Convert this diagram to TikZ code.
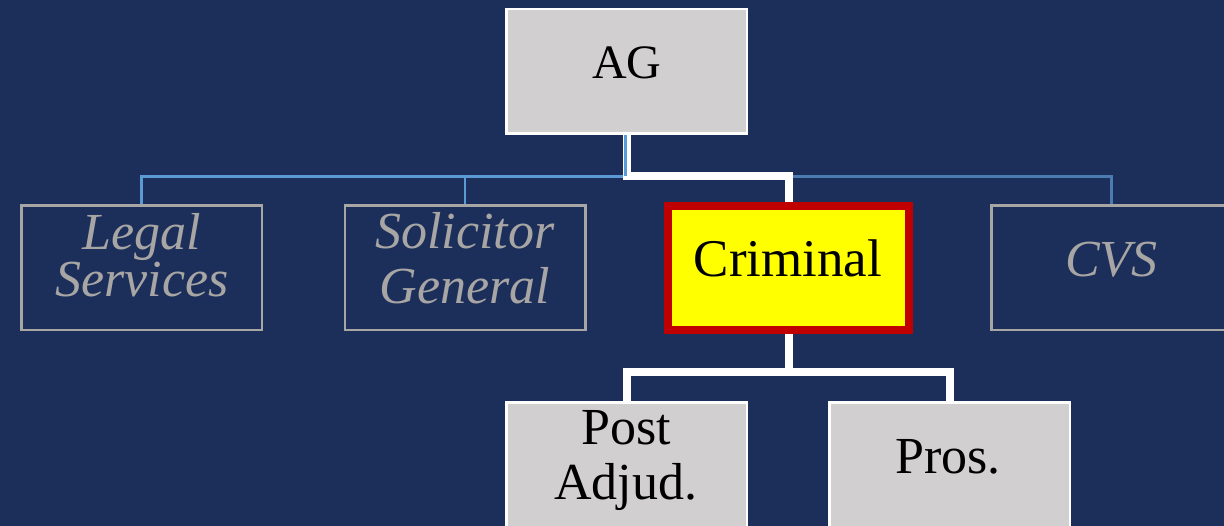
\documentclass[tikz,border=0pt]{standalone}
\usepackage{fontspec}
\setmainfont{Liberation Serif}
\usetikzlibrary{calc}

\definecolor{navy}{HTML}{1C2F5A}
\definecolor{boxgray}{HTML}{D1CFD0}
\definecolor{ghostgray}{HTML}{A8A5A5}
\definecolor{critred}{HTML}{C00000}
\definecolor{crityellow}{HTML}{FFFF00}
\definecolor{buslight}{HTML}{5B9BD5}
\definecolor{busdark}{HTML}{4A7CB2}

\pgfdeclarelayer{back}
\pgfdeclarelayer{wires}
\pgfsetlayers{back,wires,main}

\begin{document}
\begin{tikzpicture}[x=1pt,y=-1pt,
  box/.style={rectangle, inner sep=0pt, outer sep=0pt,
    minimum width=240.5pt, minimum height=124.5pt},
  greybox/.style={box, fill=boxgray, draw=white, line width=2.5pt},
  ghostbox/.style={box, draw=ghostgray, line width=2.5pt},
  hotbox/.style={box, fill=crityellow, draw=critred, line width=8pt,
    minimum width=241pt, minimum height=124pt},
  lbl/.style={anchor=base, inner sep=0pt, outer sep=0pt, text=black,
    font=\fontsize{52}{52}\selectfont},
  ghostlbl/.style={lbl, text=ghostgray, font=\fontsize{52}{52}\selectfont\itshape},
  bus/.style={line width=2.5pt},
  trunk/.style={draw=white, line width=8pt, line join=miter},
]
\useasboundingbox (0,0) rectangle (1224,526);
\clip (0,0) rectangle (1224,526);
\begin{pgfonlayer}{back}
  \fill[navy] (0,0) rectangle (1224,526);
\end{pgfonlayer}

% boxes
\node[greybox]  (ag)    at (626.5,71.5) {};
\node[ghostbox] (legal) at (141.5,268)  {};
\node[ghostbox] (sg)    at (465,268)    {};
\node[hotbox]   (crim)  at (788.5,268)  {};
\node[ghostbox] (cvs)   at (1111.5,268) {};
\node[greybox]  (post)  at (626.5,465) {};
\node[greybox]  (pros)  at (949.5,465) {};

% labels
\node[lbl, font=\fontsize{48}{48}\selectfont] (agt) at (627,79) {AG};
\node[ghostlbl] (legalt1) at (142,250) {Legal};
\node[ghostlbl] (legalt2) at (142,297) {Services};
\node[ghostlbl] (sgt1) at (465,249) {Solicitor};
\node[ghostlbl] (sgt2) at (465,304) {General};
\node[lbl, font=\fontsize{53}{53}\selectfont] (crimt) at (788,277) {Criminal};
\node[ghostlbl] (cvst) at (1111.5,277) {CVS};
\node[lbl] (postt1) at (626,445) {Post};
\node[lbl] (postt2) at (625.5,500) {Adjud.};
\node[lbl] (prost) at (948,473) {Pros.};

% connectors
\coordinate (busL) at (141.5,176.5);
\coordinate (busM) at (627,176.5);
\coordinate (busR) at (1111.5,176.5);
\coordinate (split) at (788.5,372.5);

\begin{pgfonlayer}{wires}
  \draw[bus, draw=buslight] (legal.north) -- (busL) -- (busM);
  \draw[bus, draw=busdark] (busM) -- (busR) -- (cvs.north);
  \draw[bus, draw=buslight] (sg.north) -- (sg.north |- busL);
  \draw[trunk] (ag.south -| busM) -- (busM) -| (crim.north);
  \draw[bus, draw=buslight] ($(ag.south -| busM)+(-1.5,0)$) -- ($(busM)+(-1.5,0)$);
  \draw[trunk] (crim.south) -- (split);
  \draw[trunk] (post.north) |- (split) -| (pros.north);
\end{pgfonlayer}
\end{tikzpicture}
\end{document}
